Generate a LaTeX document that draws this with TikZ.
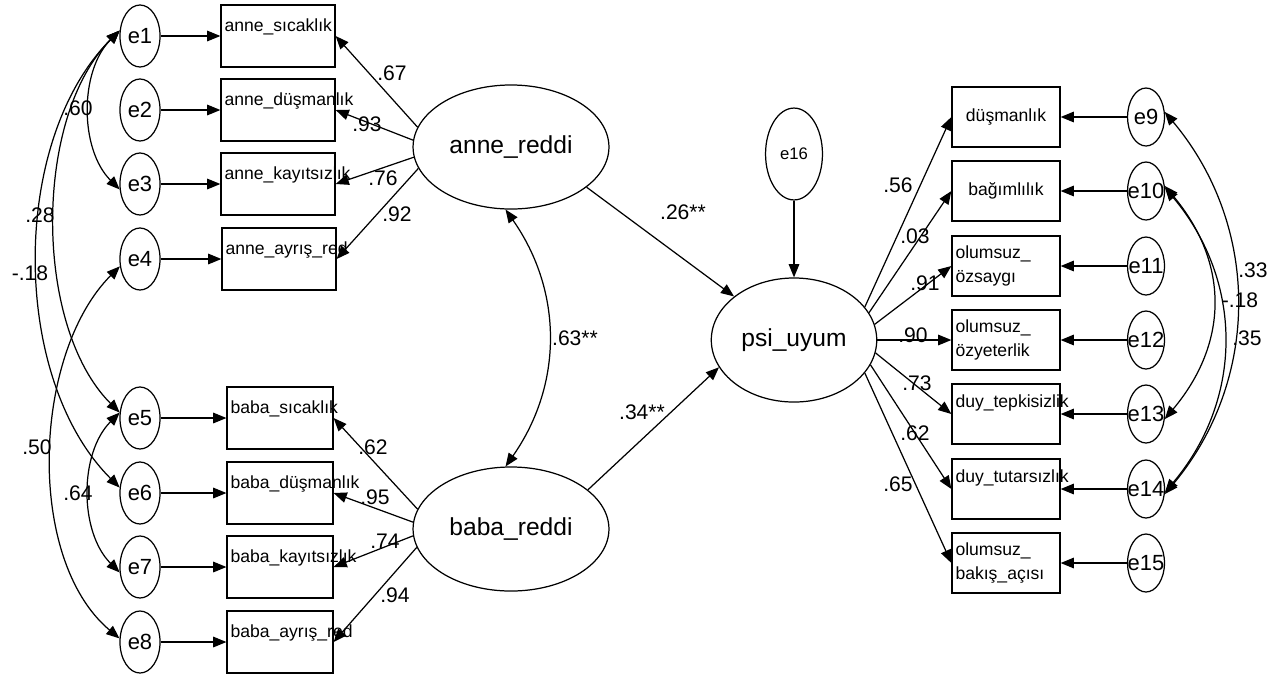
\documentclass[tikz,border=0pt]{standalone}
\usepackage{fontspec}
\setmainfont{Liberation Sans}
\usetikzlibrary{arrows.meta,shapes.geometric}
\hyphenpenalty=10000

\tikzset{
  err/.style={ellipse,draw,minimum width=22.8pt,minimum height=35.3pt,inner xsep=-3pt,inner ysep=0pt,font=\fontsize{12.5}{14}\selectfont},
  errr/.style={err,minimum width=21pt,minimum height=33pt},
  lat/.style={ellipse,draw,minimum width=111.5pt,minimum height=70.6pt,font=\fontsize{14}{16}\selectfont},
  obsl/.style={draw,text width=60.9pt,inner xsep=2pt,inner ysep=0pt,align=center,text height=15pt,text depth=20.3pt,font=\fontsize{10}{12}\selectfont},
  obsr/.style={draw,text width=57.5pt,inner xsep=2pt,minimum height=34.1pt,align=center,font=\fontsize{10}{14}\selectfont},
  obstop/.style={obsr,inner ysep=0pt,text height=13.6pt,text depth=20.5pt},
  coef/.style={inner sep=0pt,font=\fontsize{12}{14}\selectfont},
}

\begin{document}
\begin{tikzpicture}[x=0.02cm,y=-0.02cm,->,line width=0.7pt,>={Triangle[length=7.5pt,width=6pt]}]
   \useasboundingbox (0,0) rectangle (1283,677);

   \node[err] (e1) at (140,36)  {e1};
   \node[err] (e2) at (140,110) {e2};
   \node[err] (e3) at (140,184) {e3};
   \node[err] (e4) at (140,259) {e4};
   \node[err] (e5) at (140,418) {e5};
   \node[err] (e6) at (140,493) {e6};
   \node[err] (e7) at (140,567) {e7};
   \node[err] (e8) at (140,642) {e8};

   \node[obsl] (a1) at (278,36)  {anne\_sıcaklık};
   \node[obsl] (a2) at (278,110) {anne\_düşmanlık};
   \node[obsl] (a3) at (278,184) {anne\_kayıtsızlık};
   \node[obsl] (a4) at (279,259) {anne\_ayrış\_red};
   \node[obsl,text width=56.3pt] (b1) at (280,418) {baba\_sıcaklık};
   \node[obsl,text width=56.3pt] (b2) at (280,493) {baba\_düşmanlık};
   \node[obsl,text width=56.3pt] (b3) at (280,567) {baba\_kayıtsızlık};
   \node[obsl,text width=56.3pt] (b4) at (280,642) {baba\_ayrış\_red};

   \node[lat] (anne) at (511,147) {anne\_reddi};
   \node[lat] (baba) at (511,529) {baba\_reddi};
   \node[lat,minimum width=91pt] (psi) at (794,340) {psi\_uyum};
   \node[err,minimum width=32.4pt,minimum height=52.3pt,font=\fontsize{9.5}{11}\selectfont] (e16) at (794,154) {e16};

   \node[obsr] (p1) at (1006,117) {düşmanlık};
   \node[obsr] (p2) at (1006,191) {bağımlılık};
   \node[obsr,align=left] (p3) at (1006,266) {olumsuz\_\\özsaygı};
   \node[obsr,align=left] (p4) at (1006,340) {olumsuz\_\\özyeterlik};
   \node[obstop] (p5) at (1006,414) {duy\_tepkisizlik};
   \node[obstop] (p6) at (1006,489) {duy\_tutarsızlık};
   \node[obsr,align=left] (p7) at (1006,563) {olumsuz\_\\bakış\_açısı};

   \node[errr] (e9)  at (1146,117) {e9};
   \node[errr] (e10) at (1146,191) {e10};
   \node[errr] (e11) at (1146,266) {e11};
   \node[errr] (e12) at (1146,340) {e12};
   \node[errr] (e13) at (1146,414) {e13};
   \node[errr] (e14) at (1146,489) {e14};
   \node[errr] (e15) at (1146,563) {e15};

   \path (e1) edge (a1) (e2) edge (a2) (e3) edge (a3) (e4) edge (a4);
   \path (e5) edge (b1) (e6) edge (b2) (e7) edge (b3) (e8) edge (b4);
   \path (e9) edge (p1) (e10) edge (p2) (e11) edge (p3) (e12) edge (p4);
   \path (e13) edge (p5) (e14) edge (p6) (e15) edge (p7);

   \path (anne.168) edge (a1.east) (anne.176) edge (a2.east);
   \path (anne.186) edge (a3.east) (anne.193) edge (a4.east);
   \path (baba.168) edge (b1.east) (baba.176) edge (b2.east);
   \path (baba.184) edge (b3.east) (baba.191) edge (b4.east);

   \path (psi.25) edge (p1.west) (psi.20) edge (p2.west) (psi.11) edge (p3.west);
   \path (psi.0) edge (p4.west) (psi.351) edge (p5.west);
   \path (psi.342) edge (p6.west) (psi.335) edge (p7.west);

   \path (anne.332) edge (psi.144);
   \path (baba.27) edge (psi.200);
   \path (e16) edge (psi);
   \path (anne.265) edge[<->,out=-55,in=55] (baba.95);

   \path (e1.165) edge[<->,out=225,in=135,looseness=.92] (e3.195);
   \path (e1.165) edge[<->,out=225,in=135,looseness=.82] (e5.165);
   \path (e1.165) edge[<->,out=225,in=135,looseness=.87] (e6.165);
   \path (e4.200) edge[<->,out=225,in=140,looseness=.85] (e8.170);
   \path (e5.165) edge[<->,out=225,in=135,looseness=.92] (e7.195);

   \path (e9.15) edge[<->,out=-50,in=50,looseness=1] (e14.345);
   \path (e10.15) edge[<->,out=-50,in=50,looseness=1.1] (e13.345);
   \path (e10.10) edge[<->,out=-50,in=50,looseness=1.03] (e14.350);

   \node[coef] (c1) at (392,73)  {.67};
   \node[coef] (c2) at (367,124) {.93};
   \node[coef] (c3) at (383,178) {.76};
   \node[coef] (c4) at (397,214) {.92};
   \node[coef] (c5) at (373,447) {.62};
   \node[coef] (c6) at (375,497) {.95};
   \node[coef] (c7) at (385,541) {.74};
   \node[coef] (c8) at (395,595) {.94};
   \node[coef] (c9) at (78,108)  {.60};
   \node[coef] (c10) at (40,215) {.28};
   \node[coef] (c11) at (30,273) {-.18};
   \node[coef] (c12) at (37,447) {.50};
   \node[coef] (c13) at (78,493) {.64};
   \node[coef] (c14) at (683,212) {.26**};
   \node[coef] (c15) at (575,338) {.63**};
   \node[coef] (c16) at (642,412) {.34**};
   \node[coef] (c17) at (898,185) {.56};
   \node[coef] (c18) at (915,236) {.03};
   \node[coef] (c19) at (925,283) {.91};
   \node[coef] (c20) at (913,335) {.90};
   \node[coef] (c21) at (917,383) {.73};
   \node[coef] (c22) at (915,433) {.62};
   \node[coef] (c23) at (898,484) {.65};
   \node[coef] (c24) at (1253,270) {.33};
   \node[coef] (c25) at (1240,300) {-.18};
   \node[coef] (c26) at (1247,338) {.35};
\end{tikzpicture}
\end{document}
